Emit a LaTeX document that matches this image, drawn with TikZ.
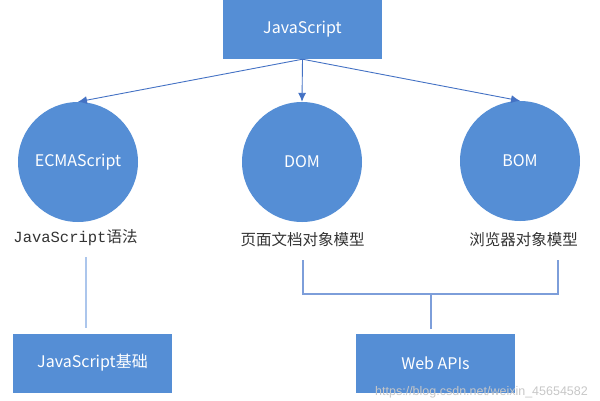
\documentclass[tikz,border=0pt]{standalone}
\usepackage{fontspec}
\setmainfont{Noto Sans CJK SC}
\newfontfamily\codefont{Liberation Mono}
\newfontfamily\urlfont{Liberation Sans}
\usetikzlibrary{arrows.meta}
\definecolor{boxblue}{RGB}{85,142,213}
\definecolor{arrowblue}{RGB}{68,114,196}
\definecolor{lineblue}{RGB}{125,158,218}
\definecolor{paleblue}{RGB}{172,198,236}
\tikzset{
	blockbox/.style={fill=boxblue, text=white, minimum width=159pt, minimum height=59pt, inner sep=0pt, font=\fontsize{16}{19}\selectfont},
	ball/.style={circle, fill=boxblue, text=white, minimum size=120pt, inner sep=0pt, font=\fontsize{16}{19}\selectfont},
	caption/.style={text=black!80, inner sep=0pt, font=\fontsize{15.5}{18}\selectfont},
	link/.style={arrowblue, line width=0.9pt, -{Latex[length=9pt,width=8pt]}},
	wire/.style={lineblue, line width=1.3pt},
}
\begin{document}
\begin{tikzpicture}[x=1pt,y=-1pt]
				\useasboundingbox (0,0) rectangle (600,400);
				\coordinate (b0) at (302.5,29.5);
				\coordinate (c0) at (78,162);
				\coordinate (c1) at (302,162);
				\coordinate (c2) at (520,161);
				\coordinate (b1) at (92.5,363);
				\coordinate (b2) at (435.5,363.5);
				%
				\node[blockbox] (js) at (b0) {JavaScript};
				\node[ball] (ecma) at (c0) {ECMAScript};
				\node[ball] (dom) at (c1) {DOM};
				\node[ball] (bom) at (c2) {BOM};
				\node[blockbox] (base) at (b1) {JavaScript基础};
				\node[blockbox] (api) at (b2) {Web APIs};
				%
				\node[caption] (l0) at (75.5,238) {{\codefont JavaScript}语法};
				\node[caption] (l1) at (302.5,240) {页面文档对象模型};
				\node[caption] (l2) at (523.5,240) {浏览器对象模型};
				%
				\foreach \n in {ecma,dom,bom}
				\draw[link] (js.south) -- (\n.north);
				%
				\coordinate (t0) at (86,257);
				\coordinate (t1) at (86,328);
				\draw[paleblue, line width=1.5pt] (t0) -- (t1);
				\coordinate (k0) at (303,260);
				\coordinate (k1) at (558,260);
				\coordinate (k2) at (431,294);
				\coordinate (k3) at (431,329);
				\draw[wire] (k0) |- (k2) -| (k1);
				\draw[wire] (k2) -- (k3);
				%
				\node[anchor=west, text=black!22, inner sep=0pt, font=\urlfont\fontsize{12.5}{14}\selectfont] (mark) at (375,392) {https://blog.csdn.net/weixin\_45654582};
			\end{tikzpicture}
\end{document}
